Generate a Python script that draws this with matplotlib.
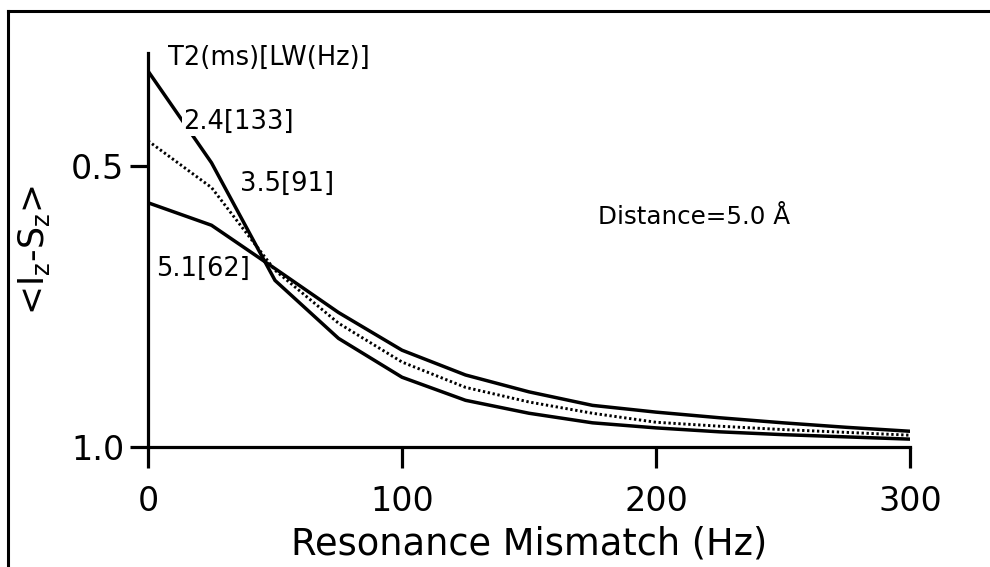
import matplotlib.pyplot as plt
from matplotlib.lines import Line2D

plt.rcParams["font.family"] = "DejaVu Sans"
plt.rcParams["mathtext.default"] = "regular"

mismatch_hz = [0, 25, 50, 75, 100, 125, 150, 175, 200, 225, 250, 275, 300]
t2_24 = [0.332, 0.495, 0.704, 0.807, 0.876, 0.917, 0.940, 0.957, 0.966, 0.973, 0.978, 0.982, 0.986]
t2_35 = [0.456, 0.539, 0.686, 0.780, 0.849, 0.894, 0.920, 0.940, 0.956, 0.963, 0.969, 0.974, 0.979]
t2_51 = [0.566, 0.606, 0.683, 0.761, 0.828, 0.872, 0.902, 0.926, 0.938, 0.948, 0.957, 0.965, 0.972]

x_ticks = [0, 100, 200, 300]
y_ticks = [0.5, 1.0]

fig = plt.figure(figsize=(9.9, 5.67), dpi=100)
ax = fig.add_axes([0.1495, 0.2116, 0.9192 - 0.1495, 0.9065 - 0.2116])

ax.plot(mismatch_hz, t2_24, color="black", lw=2.5, solid_joinstyle="miter")
ax.plot(mismatch_hz, t2_35, color="black", lw=2.1, linestyle=(0, (0.8, 0.9)))
ax.plot(mismatch_hz, t2_51, color="black", lw=2.5, solid_joinstyle="miter")

ax.set_xlim(0, 300)
ax.set_ylim(1.0, 0.3)
ax.set_xticks(x_ticks)
ax.set_xticklabels(["0", "100", "200", "300"])
ax.set_yticks(y_ticks)
ax.set_yticklabels(["0.5", "1.0"])

for side in ("top", "right"):
    ax.spines[side].set_visible(False)
for side in ("left", "bottom"):
    ax.spines[side].set_linewidth(2.3)

ax.tick_params(axis="x", direction="out", length=15, width=2.3, labelsize=24, pad=12)
ax.tick_params(axis="y", direction="out", length=13, width=2.3, labelsize=24, pad=4)

ax.set_xlabel("Resonance Mismatch (Hz)", fontsize=26.5, labelpad=6)
ax.set_ylabel("<I$_z$-S$_z$>", fontsize=25, labelpad=14)

txt = dict(fontsize=18.5, color="black", va="center", ha="left")
ax.text(7.9, 0.309, "T2(ms)[LW(Hz)]", **txt)
ax.text(13.8, 0.422, "2.4[133]",
        bbox=dict(facecolor="white", edgecolor="none", pad=1.0), **txt)
ax.text(36.2, 0.532, "3.5[91]", **txt)
ax.text(3.1, 0.683, "5.1[62]", **txt)
ax.text(177, 0.592, "Distance=5.0 Å", fontsize=17.7, va="center", ha="left")

# frame lines along top and left edges of the figure
fig.add_artist(Line2D([0.008, 1.0], [0.981, 0.981], color="black", lw=2.2,
                      transform=fig.transFigure))
fig.add_artist(Line2D([0.008, 0.008], [0.0, 0.981], color="black", lw=2.2,
                      transform=fig.transFigure))

fig.savefig("out.png", dpi=100)
